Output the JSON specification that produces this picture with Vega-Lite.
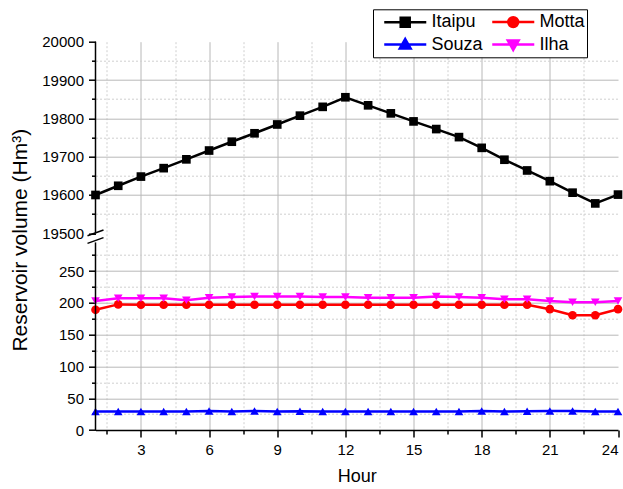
{
  "$schema": "https://vega.github.io/schema/vega-lite/v6.json",
  "width": 522.5,
  "height": 388.3,
  "autosize": {"type": "none"},
  "padding": {"left": 95.5, "top": 41.7, "right": 5, "bottom": 59},
  "background": "white",
  "config": {
    "view": {"stroke": null},
    "font": "Liberation Sans",
    "axis": {
      "labelFont": "Liberation Sans",
      "titleFont": "Liberation Sans",
      "labelFontSize": 15,
      "titleFontSize": 18,
      "labelColor": "#000",
      "titleColor": "#000",
      "titleFontWeight": "normal",
      "tickColor": "#000",
      "domainColor": "#000",
      "tickWidth": 1.5,
      "domainWidth": 1.5
    }
  },
  "data": {
    "values": [
      {"h": 1, "s": "Itaipu", "v": 19600}, {"h": 2, "s": "Itaipu", "v": 19624}, {"h": 3, "s": "Itaipu", "v": 19648}, {"h": 4, "s": "Itaipu", "v": 19670},
      {"h": 5, "s": "Itaipu", "v": 19693}, {"h": 6, "s": "Itaipu", "v": 19716}, {"h": 7, "s": "Itaipu", "v": 19739}, {"h": 8, "s": "Itaipu", "v": 19761},
      {"h": 9, "s": "Itaipu", "v": 19784}, {"h": 10, "s": "Itaipu", "v": 19807}, {"h": 11, "s": "Itaipu", "v": 19830}, {"h": 12, "s": "Itaipu", "v": 19855},
      {"h": 13, "s": "Itaipu", "v": 19834}, {"h": 14, "s": "Itaipu", "v": 19813}, {"h": 15, "s": "Itaipu", "v": 19792}, {"h": 16, "s": "Itaipu", "v": 19772},
      {"h": 17, "s": "Itaipu", "v": 19751}, {"h": 18, "s": "Itaipu", "v": 19723}, {"h": 19, "s": "Itaipu", "v": 19692}, {"h": 20, "s": "Itaipu", "v": 19664},
      {"h": 21, "s": "Itaipu", "v": 19636}, {"h": 22, "s": "Itaipu", "v": 19606}, {"h": 23, "s": "Itaipu", "v": 19578}, {"h": 24, "s": "Itaipu", "v": 19601},
      {"h": 1, "s": "Motta", "v": 189}, {"h": 2, "s": "Motta", "v": 197.5}, {"h": 3, "s": "Motta", "v": 197}, {"h": 4, "s": "Motta", "v": 197},
      {"h": 5, "s": "Motta", "v": 197}, {"h": 6, "s": "Motta", "v": 197}, {"h": 7, "s": "Motta", "v": 197}, {"h": 8, "s": "Motta", "v": 197},
      {"h": 9, "s": "Motta", "v": 197}, {"h": 10, "s": "Motta", "v": 197}, {"h": 11, "s": "Motta", "v": 197}, {"h": 12, "s": "Motta", "v": 197},
      {"h": 13, "s": "Motta", "v": 197}, {"h": 14, "s": "Motta", "v": 197}, {"h": 15, "s": "Motta", "v": 197}, {"h": 16, "s": "Motta", "v": 197},
      {"h": 17, "s": "Motta", "v": 197}, {"h": 18, "s": "Motta", "v": 197}, {"h": 19, "s": "Motta", "v": 197}, {"h": 20, "s": "Motta", "v": 197},
      {"h": 21, "s": "Motta", "v": 190}, {"h": 22, "s": "Motta", "v": 180.5}, {"h": 23, "s": "Motta", "v": 180.5}, {"h": 24, "s": "Motta", "v": 190},
      {"h": 1, "s": "Souza", "v": 29}, {"h": 2, "s": "Souza", "v": 29}, {"h": 3, "s": "Souza", "v": 29}, {"h": 4, "s": "Souza", "v": 29},
      {"h": 5, "s": "Souza", "v": 29}, {"h": 6, "s": "Souza", "v": 30}, {"h": 7, "s": "Souza", "v": 29}, {"h": 8, "s": "Souza", "v": 30},
      {"h": 9, "s": "Souza", "v": 29}, {"h": 10, "s": "Souza", "v": 29.5}, {"h": 11, "s": "Souza", "v": 29}, {"h": 12, "s": "Souza", "v": 29},
      {"h": 13, "s": "Souza", "v": 29}, {"h": 14, "s": "Souza", "v": 29}, {"h": 15, "s": "Souza", "v": 29}, {"h": 16, "s": "Souza", "v": 29},
      {"h": 17, "s": "Souza", "v": 29}, {"h": 18, "s": "Souza", "v": 30}, {"h": 19, "s": "Souza", "v": 29}, {"h": 20, "s": "Souza", "v": 29.5},
      {"h": 21, "s": "Souza", "v": 30}, {"h": 22, "s": "Souza", "v": 30}, {"h": 23, "s": "Souza", "v": 29}, {"h": 24, "s": "Souza", "v": 29},
      {"h": 1, "s": "Ilha", "v": 203}, {"h": 2, "s": "Ilha", "v": 207}, {"h": 3, "s": "Ilha", "v": 207}, {"h": 4, "s": "Ilha", "v": 207},
      {"h": 5, "s": "Ilha", "v": 204}, {"h": 6, "s": "Ilha", "v": 208}, {"h": 7, "s": "Ilha", "v": 209}, {"h": 8, "s": "Ilha", "v": 210},
      {"h": 9, "s": "Ilha", "v": 210}, {"h": 10, "s": "Ilha", "v": 210}, {"h": 11, "s": "Ilha", "v": 209}, {"h": 12, "s": "Ilha", "v": 209},
      {"h": 13, "s": "Ilha", "v": 208}, {"h": 14, "s": "Ilha", "v": 208}, {"h": 15, "s": "Ilha", "v": 208}, {"h": 16, "s": "Ilha", "v": 210},
      {"h": 17, "s": "Ilha", "v": 209}, {"h": 18, "s": "Ilha", "v": 208}, {"h": 19, "s": "Ilha", "v": 205.5}, {"h": 20, "s": "Ilha", "v": 205.5},
      {"h": 21, "s": "Ilha", "v": 203}, {"h": 22, "s": "Ilha", "v": 201}, {"h": 23, "s": "Ilha", "v": 201}, {"h": 24, "s": "Ilha", "v": 203}
    ]
  },
  "layer": [
    {
      "mark": {"type": "point", "opacity": 0},
      "encoding": {
        "x": {
          "field": "h", "type": "quantitative",
          "scale": {"domain": [1, 24], "nice": false, "zero": false},
          "axis": {"orient": "bottom", "values": [1.5, 4.5, 7.5, 10.5, 13.5, 16.5, 19.5, 22.5], "labels": false, "tickSize": 4, "domain": false, "grid": true, "gridDash": [2, 2], "gridColor": "#cfcfcf", "gridWidth": 1, "title": null}
        },
        "y": {
          "field": "v", "type": "quantitative",
          "scale": {"domain": [0, 295, 19500, 20000], "range": [388.3, 200.7, 191.6, 0], "nice": false, "zero": false},
          "axis": {"orient": "left", "values": [25, 75, 125, 175, 225, 275, 19550, 19650, 19750, 19850, 19950], "labels": false, "tickSize": 4, "domain": false, "grid": true, "gridDash": [2, 2], "gridColor": "#cfcfcf", "gridWidth": 1, "title": null}
        }
      }
    },
    {
      "mark": {"type": "line", "strokeWidth": 2.5},
      "encoding": {
        "x": {
          "field": "h", "type": "quantitative",
          "axis": {"orient": "bottom", "values": [3, 6, 9, 12, 15, 18, 21, 24], "format": "d", "tickSize": 7, "labelPadding": 5, "domain": true, "grid": true, "gridColor": "#b8b8b8", "gridWidth": 1,
            "gridOpacity": {"condition": {"test": "datum.value == 24", "value": 0}, "value": 1},
            "title": "Hour", "titlePadding": 10}
        },
        "y": {
          "field": "v", "type": "quantitative",
          "axis": {"orient": "left", "values": [0, 50, 100, 150, 200, 250, 19500, 19600, 19700, 19800, 19900, 20000], "format": "d", "tickSize": 7, "labelPadding": 5, "domain": false, "grid": true, "gridColor": "#b8b8b8", "gridWidth": 1,
            "gridOpacity": {"condition": {"test": "datum.value == 0 || datum.value == 19500 || datum.value == 20000", "value": 0}, "value": 1},
            "title": "Reservoir volume (Hm³)", "titleFontSize": 21, "titlePadding": 11, "titleY": 198}
        },
        "color": {
          "field": "s", "type": "nominal",
          "scale": {"domain": ["Itaipu", "Motta", "Souza", "Ilha"], "range": ["#000000", "#ff0000", "#0000ff", "#ff00ff"]},
          "legend": {
            "orient": "none", "legendX": 277.5, "legendY": -32.4, "columns": 2, "direction": "horizontal", "title": null,
            "labelFont": "Liberation Sans", "labelFontSize": 18, "labelColor": "#000", "labelOffset": 35.5,
            "symbolSize": 324, "symbolStrokeWidth": 2.5, "symbolType": "M-0.14,0H4.53",
            "columnPadding": -27, "rowPadding": 1.7, "padding": 2,
            "strokeColor": "#000", "fillColor": "#ffffff",
            "encode": {
              "symbols": {
                "update": {
                  "shape": {"signal": "datum.value === 'Itaipu' ? 'M-0.14,0H4.53M1.69,-0.5H2.69V0.5H1.69Z' : datum.value === 'Motta' ? 'M-0.14,0H4.53M1.64,0A0.55,0.55,0,1,0,2.74,0A0.55,0.55,0,1,0,1.64,0Z' : datum.value === 'Souza' ? 'M-0.14,0H4.53M2.19,-0.6L2.79,0.45L1.59,0.45Z' : 'M-0.14,0H4.53M2.19,0.6L2.79,-0.45L1.59,-0.45Z'"},
                  "fill": {"signal": "scale('color', datum.value)"},
                  "stroke": {"signal": "scale('color', datum.value)"},
                  "strokeWidth": {"value": 2.5},
                  "opacity": {"value": 1}
                }
              }
            }
          }
        }
      }
    },
    {
      "transform": [{"filter": "datum.s === 'Itaipu'"}],
      "mark": {"type": "point", "shape": "square", "filled": true, "size": 75, "opacity": 1},
      "encoding": {
        "x": {"field": "h", "type": "quantitative", "axis": null},
        "y": {"field": "v", "type": "quantitative", "axis": null},
        "color": {"field": "s", "type": "nominal", "legend": null}
      }
    },
    {
      "transform": [{"filter": "datum.s === 'Motta'"}],
      "mark": {"type": "point", "shape": "circle", "filled": true, "size": 75, "opacity": 1},
      "encoding": {
        "x": {"field": "h", "type": "quantitative", "axis": null},
        "y": {"field": "v", "type": "quantitative", "axis": null},
        "color": {"field": "s", "type": "nominal", "legend": null}
      }
    },
    {
      "transform": [{"filter": "datum.s === 'Souza'"}],
      "mark": {"type": "point", "shape": "triangle-up", "filled": true, "size": 75, "opacity": 1},
      "encoding": {
        "x": {"field": "h", "type": "quantitative", "axis": null},
        "y": {"field": "v", "type": "quantitative", "axis": null},
        "color": {"field": "s", "type": "nominal", "legend": null}
      }
    },
    {
      "transform": [{"filter": "datum.s === 'Ilha'"}],
      "mark": {"type": "point", "shape": "triangle-down", "filled": true, "size": 75, "opacity": 1},
      "encoding": {
        "x": {"field": "h", "type": "quantitative", "axis": null},
        "y": {"field": "v", "type": "quantitative", "axis": null},
        "color": {"field": "s", "type": "nominal", "legend": null}
      }
    },
    {
      "data": {"values": [{}]},
      "mark": {"type": "rule", "color": "#000", "strokeWidth": 1.5},
      "encoding": {
        "x": {"datum": 1, "type": "quantitative", "axis": null},
        "y": {"datum": 0, "type": "quantitative", "axis": null},
        "y2": {"datum": 295}
      }
    },
    {
      "data": {"values": [{}]},
      "mark": {"type": "rule", "color": "#000", "strokeWidth": 1.5},
      "encoding": {
        "x": {"datum": 1, "type": "quantitative", "axis": null},
        "y": {"datum": 19500, "type": "quantitative", "axis": null},
        "y2": {"datum": 20000}
      }
    },
    {
      "data": {"values": [{}]},
      "mark": {"type": "point", "shape": "M-1,-0.12L1,-0.84M-1,0.83L1,0.12", "size": 256, "filled": false, "stroke": "#000", "strokeWidth": 1.5, "opacity": 1, "yOffset": 3.4},
      "encoding": {
        "x": {"datum": 1, "type": "quantitative", "axis": null},
        "y": {"datum": 19500, "type": "quantitative", "axis": null}
      }
    }
  ],
  "resolve": {"axis": {"x": "independent", "y": "independent"}}
}
